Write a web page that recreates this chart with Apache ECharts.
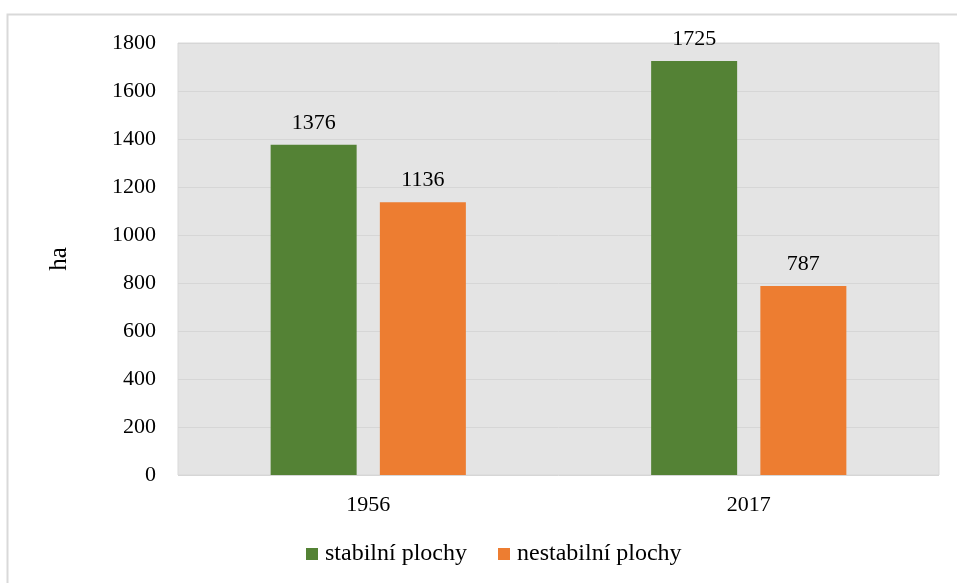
<!DOCTYPE html>
<html>
<head>
<meta charset="utf-8">
<script src="https://cdn.jsdelivr.net/npm/echarts@6/dist/echarts.min.js"></script>
<style>
html,body{margin:0;padding:0;background:#fff;}
#chart{width:957px;height:583px;}
</style>
</head>
<body>
<div id="chart"></div>
<script>
// Land area by stability class, in hectares
const years = ['1956', '2017'];
const stable = [1376, 1725];
const unstable = [1136, 787];
const seriesNames = ['stabilní plochy', 'nestabilní plochy'];
const yTicks = { min: 0, max: 1800, interval: 200 };

const serif = '"Liberation Serif", "Times New Roman", serif';
const chart = echarts.init(document.getElementById('chart'), null, { renderer: 'canvas' });

const labelStyle = { show: true, position: 'top', distance: 11, color: '#000', fontFamily: serif, fontSize: 22 };

chart.setOption({
  animation: false,
  backgroundColor: '#fff',
  graphic: [{
    type: 'rect',
    shape: { x: 7.5, y: 14.5, width: 960, height: 600 },
    style: { fill: 'none', stroke: '#d9d9d9', lineWidth: 2 },
    silent: true
  }],
  grid: {
    left: 178, right: 18, top: 43, bottom: 108,
    show: true, backgroundColor: '#e4e4e4', borderColor: '#d9d9d9', borderWidth: 1
  },
  legend: {
    bottom: 12, left: 301,
    itemWidth: 12, itemHeight: 12, itemGap: 31,
    icon: 'rect',
    textStyle: { fontFamily: serif, fontSize: 24, color: '#000', padding: [0, 0, 0, 2] },
    data: seriesNames
  },
  xAxis: {
    type: 'category',
    data: years,
    axisLine: { show: false },
    axisTick: { show: false },
    axisLabel: { color: '#000', fontFamily: serif, fontSize: 22, margin: 19 }
  },
  yAxis: {
    type: 'value',
    min: yTicks.min, max: yTicks.max, interval: yTicks.interval,
    name: 'ha',
    nameLocation: 'middle',
    nameGap: 106,
    nameRotate: 90,
    nameTextStyle: { color: '#000', fontFamily: serif, fontSize: 25 },
    axisLine: { show: false },
    axisTick: { show: false },
    splitLine: { lineStyle: { color: '#d6d6d6', width: 1 } },
    axisLabel: {
      color: '#000', fontFamily: serif, fontSize: 22, margin: 22,
      formatter: v => String(v)
    }
  },
  series: [
    {
      name: seriesNames[0], type: 'bar', data: stable,
      barWidth: 86, barGap: '27%',
      itemStyle: { color: '#548235' },
      label: labelStyle
    },
    {
      name: seriesNames[1], type: 'bar', data: unstable,
      barWidth: 86,
      itemStyle: { color: '#ed7d31' },
      label: labelStyle
    }
  ]
});
</script>
</body>
</html>
